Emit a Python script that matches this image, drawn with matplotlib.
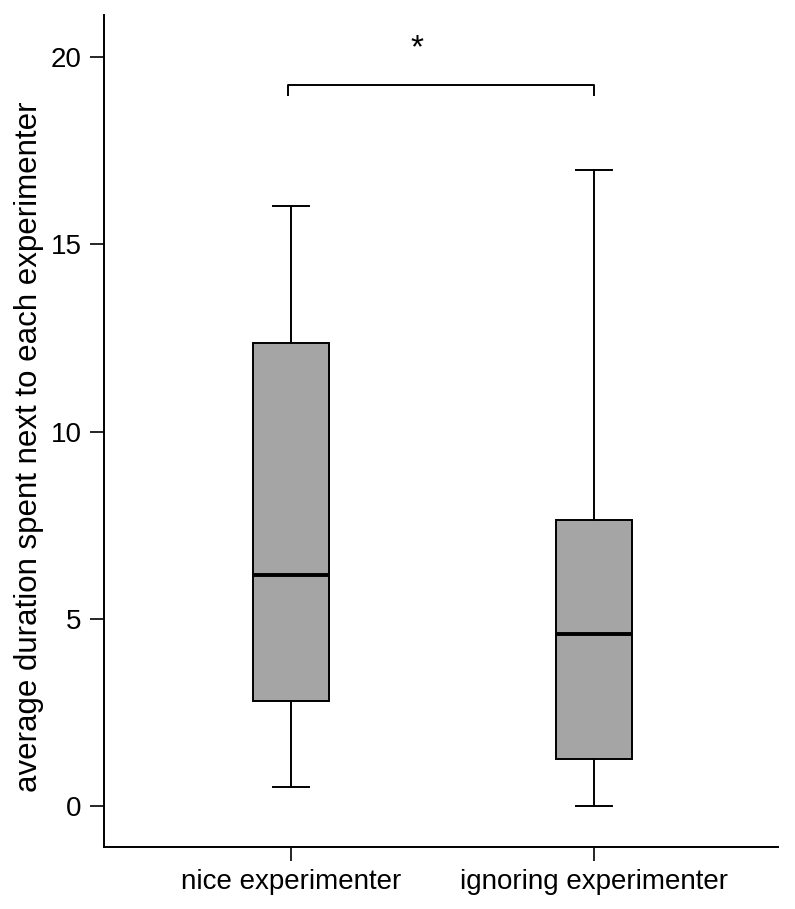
import matplotlib
matplotlib.use("Agg")
import matplotlib.pyplot as plt

categories = ["nice experimenter", "ignoring experimenter"]
whislo = [0.51, 0.0]
q1 = [2.80, 1.25]
med = [6.17, 4.59]
q3 = [12.36, 7.64]
whishi = [16.02, 16.98]
yticks = [0, 5, 10, 15, 20]
sig_label = "*"
sig_height = 19.25
sig_drop = 0.26

plt.rcParams['font.family'] = ['Liberation Sans', 'DejaVu Sans']

fig = plt.figure(figsize=(7.95, 9.09), dpi=100)
ax = fig.add_axes([0.1308, 0.0682, 0.9786 - 0.1308, 0.9835 - 0.0682])

stats = []
for i, c in enumerate(categories):
    stats.append(dict(label=c, whislo=whislo[i], q1=q1[i], med=med[i],
                      q3=q3[i], whishi=whishi[i], fliers=[]))

ax.bxp(stats, positions=[0, 1], widths=0.25, patch_artist=True,
       showfliers=False,
       boxprops=dict(facecolor='#a5a5a5', edgecolor='black', linewidth=1.4),
       medianprops=dict(color='black', linewidth=2.8),
       whiskerprops=dict(color='black', linewidth=1.4),
       capprops=dict(color='black', linewidth=1.4),
       capwidths=0.12)

ax.set_xlim(-0.617, 1.607)
ax.set_ylim(-1.09, 21.12)
ax.set_yticks(yticks)
ax.set_xticks([0, 1])
ax.set_xticklabels(categories)
ax.tick_params(axis='both', labelsize=20, length=10, width=1.2, direction='out', pad=6)
for s in ['top', 'right']:
    ax.spines[s].set_visible(False)
for s in ['left', 'bottom']:
    ax.spines[s].set_linewidth(1.4)

ax.set_ylabel("average duration spent next to each experimenter", fontsize=22.5)
ax.yaxis.set_label_coords(-0.089, 0.481)

# significance bracket
ax.plot([-0.01, -0.01, 1, 1], [sig_height - sig_drop, sig_height, sig_height, sig_height - sig_drop],
        color='black', linewidth=1.4)
ax.text(0.416, sig_height + 0.55, sig_label, ha='center', va='bottom', fontsize=24)

fig.savefig("out.png", dpi=100)
